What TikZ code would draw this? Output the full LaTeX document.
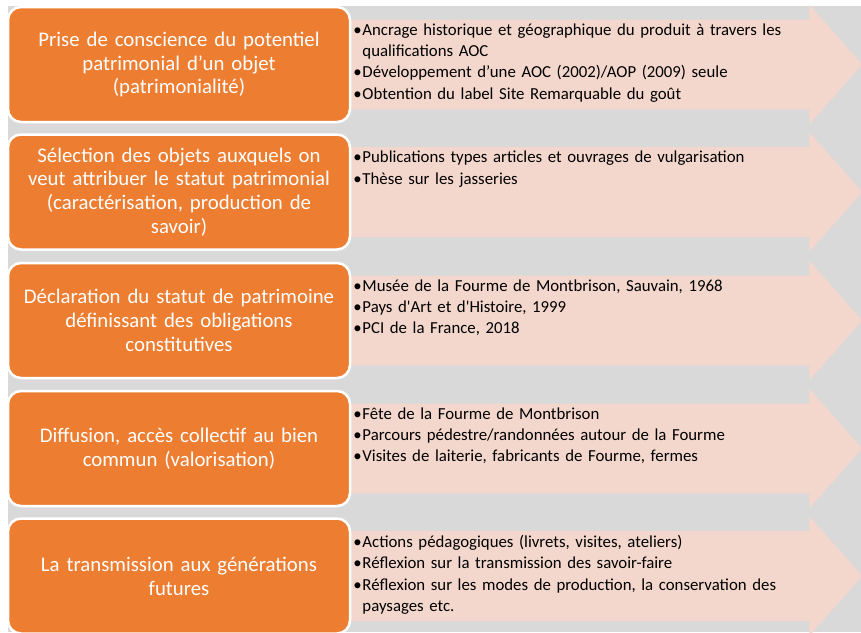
\documentclass[tikz,border=0pt]{standalone}
\usepackage{fontspec}
\setmainfont{Carlito}
\usetikzlibrary{positioning,backgrounds}

\definecolor{fond}{HTML}{D9D9D9}
\definecolor{etapeorange}{HTML}{ED7D31}
\definecolor{rose}{HTML}{F3D7CC}

% puce en debut de ligne, retrait pour les lignes suivantes
\newcommand{\puce}{\makebox[9pt][l]{\textbullet}}
\newcommand{\suite}{\\\hspace*{9pt}}

\begin{document}
\begin{tikzpicture}[x=1pt, y=-1pt,
	etape/.style={draw=white, line width=2.5pt, fill=etapeorange, rounded corners=13pt, text=white, minimum width=342pt, minimum height=115pt, text width=336pt, inner sep=0pt, align=center, font=\fontsize{20.8}{23.8}\selectfont},
	fleche/.style={fill=rose},
	liste/.style={anchor=north west, text width=490pt, inner sep=0pt, align=left, font=\fontsize{16.8}{21.3}\selectfont}]
	\useasboundingbox (0,0) rectangle (861,632);

	\node[etape] (e1) at (179,64.5) {Prise de conscience du potentiel\\patrimonial d’un objet\\(patrimonialité)};
	\node[etape] (e2) at (179,192) {Sélection des objets auxquels on\\veut attribuer le statut patrimonial\\(caractérisation, production de\\savoir)};
	\node[etape] (e3) at (179,320.5) {Déclaration du statut de patrimoine\\définissant des obligations\\constitutives};
	\node[etape] (e4) at (179,448.5) {Diffusion, accès collectif au bien\\commun (valorisation)};
	\node[etape] (e5) at (179,576) {La transmission aux générations\\futures};

	\node[liste, xshift=2pt, yshift=41pt] (l1) at (e1.east) {%
		\puce Ancrage historique et géographique du produit à travers les\suite qualifications AOC\\
		\puce Développement d’une AOC (2002)/AOP (2009) seule\\
		\puce Obtention du label Site Remarquable du goût};
	\node[liste, xshift=2pt, yshift=41pt] (l2) at (e2.east) {%
		\puce Publications types articles et ouvrages de vulgarisation\\
		\puce Thèse sur les jasseries};
	\node[liste, xshift=2pt, yshift=41pt] (l3) at (e3.east) {%
		\puce Musée de la Fourme de Montbrison, Sauvain, 1968\\
		\puce Pays d\textquotesingle Art et d\textquotesingle Histoire, 1999\\
		\puce PCI de la France, 2018};
	\node[liste, xshift=2pt, yshift=41pt] (l4) at (e4.east) {%
		\puce Fête de la Fourme de Montbrison\\
		\puce Parcours pédestre/randonnées autour de la Fourme\\
		\puce Visites de laiterie, fabricants de Fourme, fermes};
	\node[liste, xshift=2pt, yshift=41pt] (l5) at (e5.east) {%
		\puce Actions pédagogiques (livrets, visites, ateliers)\\
		\puce Réflexion sur la transmission des savoir-faire\\
		\puce Réflexion sur les modes de production, la conservation des\suite paysages etc.};

	\begin{scope}[on background layer]
		\fill[fond] (8,6) rectangle (861,632);
		% fleches roses derriere les etapes
		\foreach \i in {1,...,5}
			\fill[fleche] (e\i.east) ++(0,-45) -- ++(458,0) -- ++(0,-15) -- ++(53,60) -- ++(-53,60) -- ++(0,-15) -- ++(-458,0) -- cycle;
	\end{scope}
\end{tikzpicture}
\end{document}
